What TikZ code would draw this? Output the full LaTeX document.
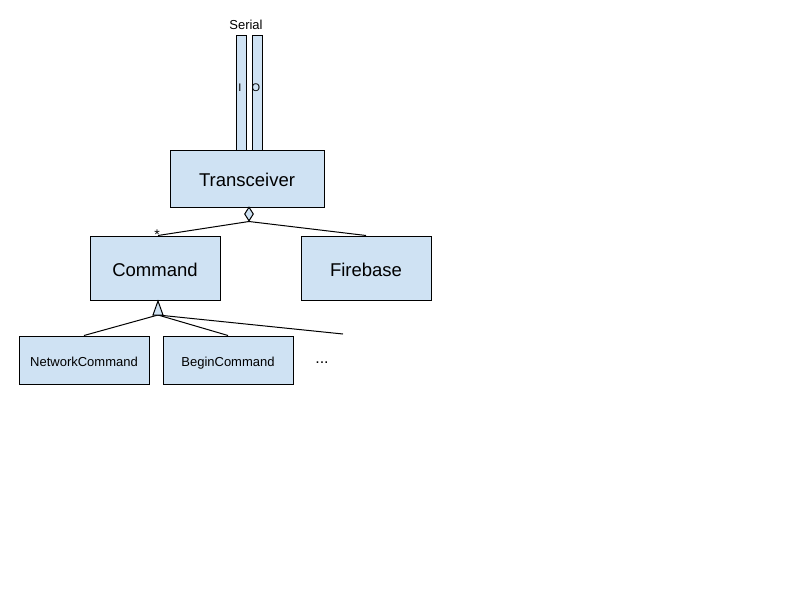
\documentclass[tikz,border=0pt]{standalone}
\usepackage{fontspec}
\setmainfont{Liberation Sans}
\usetikzlibrary{shapes.geometric}
\definecolor{boxblue}{RGB}{207,226,243}
\begin{document}
\begin{tikzpicture}[x=1pt,y=-1pt,
  box/.style={draw, fill=boxblue, line width=1pt, inner sep=0, text depth=0pt},
  bigtxt/.style={font=\fontsize{18.5}{20}\selectfont, text height=16pt},
  smalltxt/.style={font=\fontsize{13}{15}\selectfont, text height=12pt},
  lbl/.style={font=\fontsize{13}{15}\selectfont},
  conn/.style={line width=1pt}]
\useasboundingbox (0,0) rectangle (800,600);
\fill[white] (0,0) rectangle (800,600);
% serial bars
\node[box, minimum width=10pt, minimum height=115pt] (ibar) at (241,92.5) {};
\node[box, minimum width=10pt, minimum height=115pt] (obar) at (257,92.5) {};
\node[font=\fontsize{11}{12}\selectfont, inner sep=0] (ilab) at (240,88) {I};
\node[font=\fontsize{11}{12}\selectfont, inner sep=0] (olab) at (256,88) {O};
\node[lbl, inner sep=0] (serial) at (246,24.5) {Serial};
% main boxes
\node[box, bigtxt, minimum width=154pt, minimum height=57pt] (tr) at (247,178.5) {Transceiver};
\node[box, bigtxt, minimum width=130pt, minimum height=64pt] (cmd) at (155,268) {Command};
\node[box, bigtxt, minimum width=130pt, minimum height=64pt] (fb) at (366,268) {Firebase};
\node[box, smalltxt, minimum width=130pt, minimum height=48pt] (nc) at (84,360) {NetworkCommand};
\node[box, smalltxt, minimum width=130pt, minimum height=48pt] (bc) at (228,360) {BeginCommand};
\node[font=\fontsize{16}{18}\selectfont, inner sep=0] (more) at (322,363) {...};
% aggregation diamond
\node[draw, fill=boxblue, line width=1pt, diamond, inner sep=0, minimum width=9pt, minimum height=14pt] (dia) at (249,214) {};
\draw[conn] (dia.south) -- ([xshift=3pt]cmd.north);
\draw[conn] (dia.south) -- (fb.north);
\node[font=\fontsize{14}{16}\selectfont, inner sep=0] (star) at (157,235) {*};
% inheritance triangle
\coordinate (tapex) at (158,301);
\coordinate (tb) at (158,315);
\coordinate (moreend) at (343,334);
\draw[conn] (tb) -- (nc.north);
\draw[conn] (tb) -- (bc.north);
\draw[conn] (tb) -- (moreend);
\draw[conn, fill=boxblue, line join=miter] (tapex) -- (153,315) -- (163,315) -- cycle;
\end{tikzpicture}
\end{document}
